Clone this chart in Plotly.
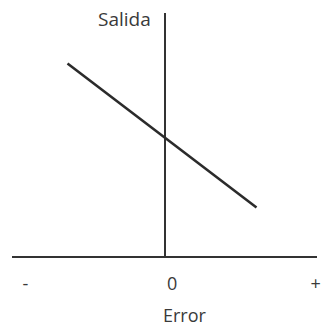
import plotly.graph_objects as go

# Data (error -> salida), in axis units
error_vals = [-0.65, 0.61]
salida_vals = [1.29, 0.33]

tick_vals = [-0.93, 0.047, 1.005]
tick_text = ["-", "0", "+"]

x_title = "Error"
y_title = "Salida"

x_range = [-1.02, 1.0133]
y_range = [0, 1.6267]


def px(v):
    return (v - x_range[0]) / (x_range[1] - x_range[0])


def py(v):
    return (v - y_range[0]) / (y_range[1] - y_range[0])


fig = go.Figure()
fig.add_trace(go.Scatter(
    x=error_vals, y=salida_vals, mode="lines",
    line=dict(color="#2b2b2b", width=2.5), showlegend=False, hoverinfo="skip",
    cliponaxis=False,
))

fig.update_layout(
    width=322, height=325,
    margin=dict(l=12, r=5, t=13, b=68, autoexpand=False),
    paper_bgcolor="white", plot_bgcolor="white",
    font=dict(family="Open Sans", size=18, color="#3a3a3a"),
    xaxis=dict(
        range=x_range, showgrid=False, showline=False,
        zeroline=True, zerolinecolor="#333333", zerolinewidth=2,
        tickmode="array", tickvals=tick_vals, ticktext=tick_text,
        ticks="", ticklabelstandoff=14, fixedrange=True, automargin=False,
        ticklabeloverflow="allow",
        tickfont=dict(size=18, color="#3a3a3a"),
    ),
    yaxis=dict(
        range=y_range, showgrid=False, showline=False,
        zeroline=True, zerolinecolor="#333333", zerolinewidth=2,
        showticklabels=False, ticks="", fixedrange=True, automargin=False,
    ),
    annotations=[
        dict(x=px(-0.27), y=py(1.59), xref="paper", yref="paper", text=y_title,
             xanchor="center", yanchor="middle",
             showarrow=False, font=dict(size=19, color="#3a3a3a")),
        dict(x=px(0.133), y=py(-0.385), xref="paper", yref="paper", text=x_title,
             xanchor="center", yanchor="middle",
             showarrow=False, font=dict(size=18, color="#3a3a3a")),
    ],
)

fig.write_html("out.html", config={"displayModeBar": False},
               post_script="document.body.style.margin='0px';")
